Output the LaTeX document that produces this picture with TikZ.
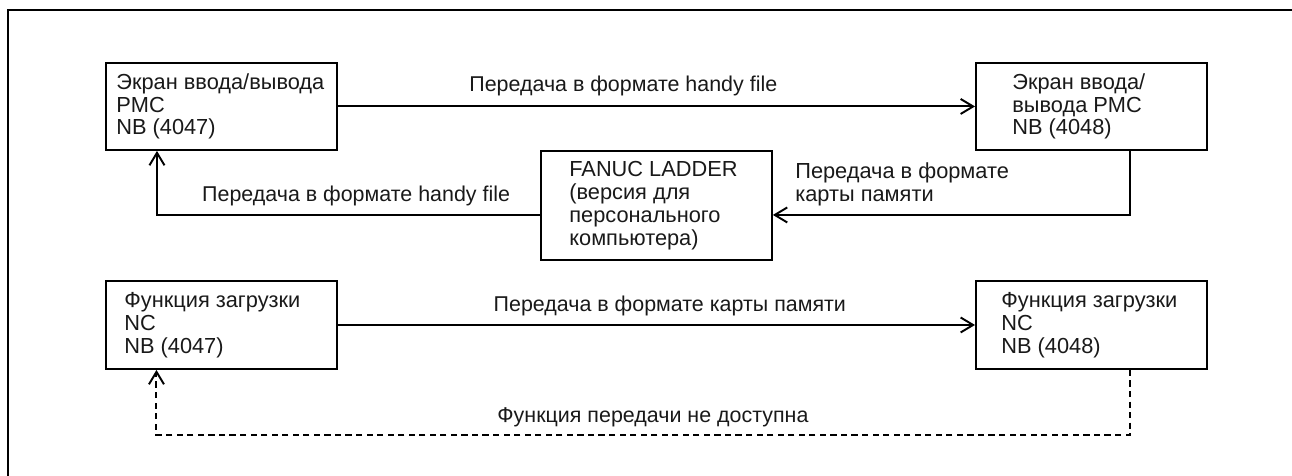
\documentclass[tikz,border=0pt]{standalone}
\usepackage{fontspec}
\setmainfont{Liberation Sans}
\usepackage{tikz}
\usetikzlibrary{positioning, arrows.meta, calc}

\begin{document}
\begin{tikzpicture}[x=0.02cm, y=-0.02cm,
		blok/.style={draw, line width=1.1pt, minimum width=4.62cm, minimum height=1.74cm, anchor=north west, inner sep=0pt},
		tekst/.style={anchor=west, align=left, inner sep=0pt, text=black!90, font=\fontsize{12.4}{13}\selectfont},
		opis/.style={inner sep=0pt, text=black!90, font=\fontsize{12.2}{13}\selectfont},
		strz/.style={line width=1.1pt, -{Straight Barb[length=0.25cm, width=0.3cm]}},
		kresk/.style={strz, dash pattern=on 3.5pt off 2.5pt}]
		% --- OBSZAR RYSUNKU ---
		\useasboundingbox (0,0) rectangle (1292,476);
		
		% Ramka (tylko lewa i górna krawędź)
		\draw[line width=1.2pt] (8,476) |- (1292,10);
		
		% --- BLOKI GÓRNE ---
		\node[blok] (ekran1) at (105,62) {};
		\node[tekst] (ekran1t) at ($(ekran1.west)+(11,0)$) {Экран ввода/вывода\\PMC\\NB (4047)};
		
		\node[blok] (ekran2) at (975,62) {};
		\node[tekst] (ekran2t) at ($(ekran2.west)+(37,0)$) {Экран ввода/\\вывода PMC\\NB (4048)};
		
		\node[blok, minimum height=2.18cm] (ladder) at (540,150) {};
		\node[tekst] (laddert) at ($(ladder.west)+(29,0)$) {FANUC LADDER\\(версия для\\персонального\\компьютера)};
		
		% --- BLOKI DOLNE ---
		\node[blok, minimum height=1.76cm] (zagr1) at (105,280) {};
		\node[tekst] (zagr1t) at ($(zagr1.west)+(19,0)$) {Функция загрузки\\NC\\NB (4047)};
		
		\node[blok, minimum height=1.76cm] (zagr2) at (975,280) {};
		\node[tekst] (zagr2t) at ($(zagr2.west)+(26,0)$) {Функция загрузки\\NC\\NB (4048)};
		
		% --- POŁĄCZENIA ---
		\draw[strz] (ekran1.east) -- node[opis, pos=0.448, yshift=0.42cm] {Передача в формате handy file} (ekran2.west);
		
		\draw[strz] ([xshift=0.77cm]ekran2.south) |- ([yshift=-0.19cm]ladder.east);
		\node[tekst] (kartat) at (795,184) {Передача в формате\\карты памяти};
		
		\draw[strz] ([yshift=-0.19cm]ladder.west) -| node[opis, pos=0.24, yshift=0.38cm] {Передача в формате handy file} ([xshift=-1.29cm]ekran1.south);
		
		\draw[strz] (zagr1.east) -- node[opis, pos=0.521, yshift=0.38cm] {Передача в формате карты памяти} (zagr2.west);
		
		% Brak funkcji przesyłania (linia przerywana)
		\draw[kresk] ([xshift=0.77cm]zagr2.south) |- node[opis, pos=0.745, yshift=0.36cm] {Функция передачи не доступна} ([xshift=-1.3cm, yshift=-1.3cm]zagr1.south) -- ([xshift=-1.3cm]zagr1.south);
		
	\end{tikzpicture}
\end{document}
